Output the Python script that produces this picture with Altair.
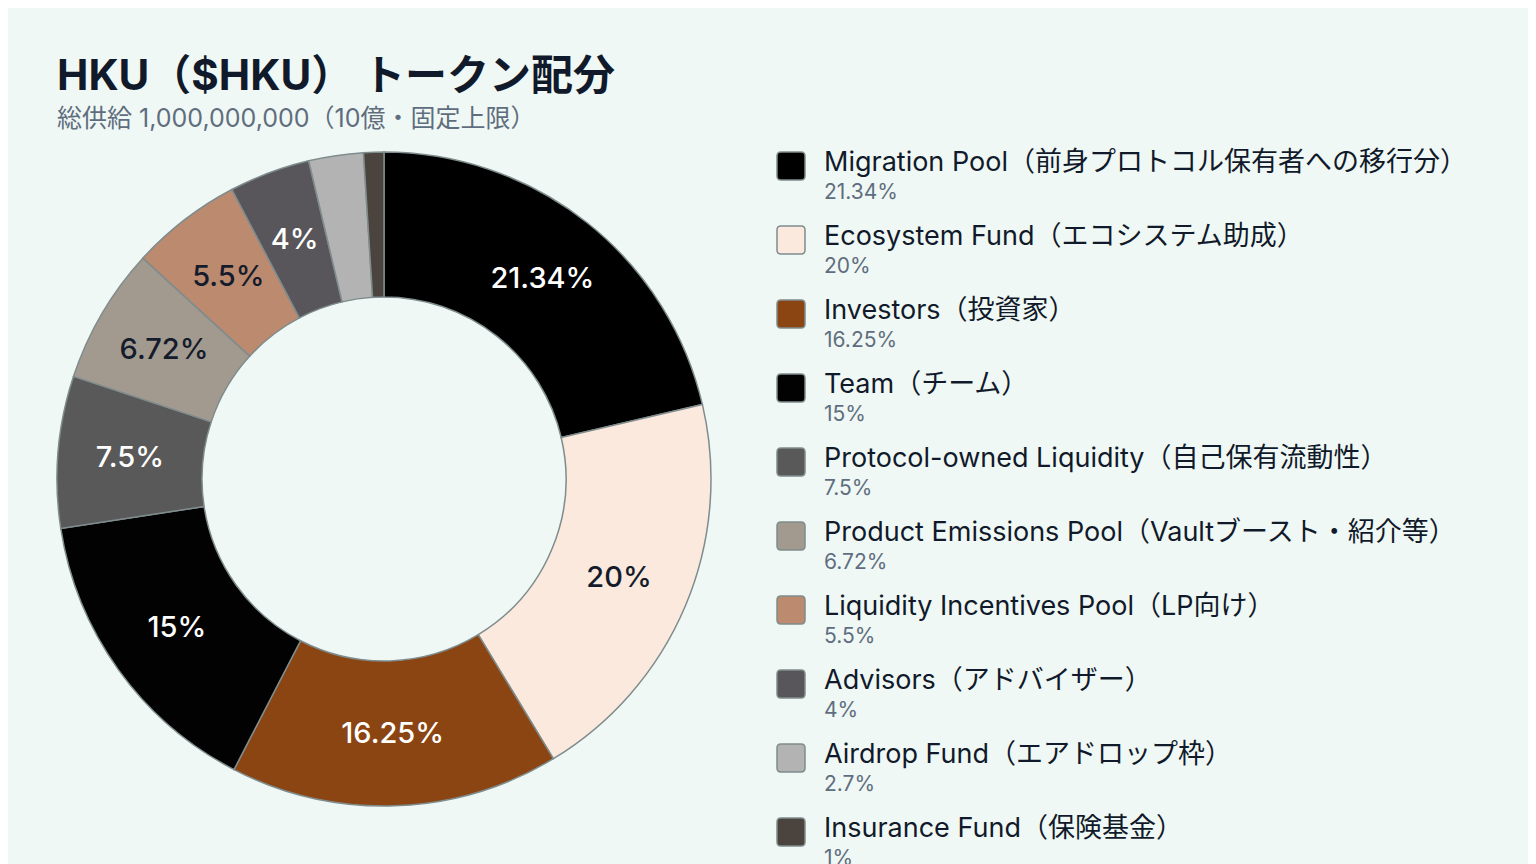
import pandas as pd
import altair as alt

names = [
    "Migration Pool（前身プロトコル保有者への移行分）",
    "Ecosystem Fund（エコシステム助成）",
    "Investors（投資家）",
    "Team（チーム）",
    "Protocol-owned Liquidity（自己保有流動性）",
    "Product Emissions Pool（Vaultブースト・紹介等）",
    "Liquidity Incentives Pool（LP向け）",
    "Advisors（アドバイザー）",
    "Airdrop Fund（エアドロップ枠）",
    "Insurance Fund（保険基金）",
]
values = [21.34, 20, 16.25, 15, 7.5, 6.72, 5.5, 4, 2.7, 1]
colors = ["#000000", "#fbe9dd", "#8b4513", "#020203", "#595959",
          "#a39a8f", "#bb8a6f", "#58565a", "#b3b3b3", "#4a433e"]
light_names = [names[1], names[5], names[6]]

FONT = "Inter, Noto Sans CJK JP"
BG = "#f0f8f5"
EDGE = "#7f8c8d"

data = pd.DataFrame({"name": names, "value": values, "idx": list(range(len(names)))})

base = alt.Chart(data).encode(
    theta=alt.Theta("value:Q", stack=True),
    order=alt.Order("idx:Q"),
)

arcs = base.mark_arc(innerRadius=182, outerRadius=327, stroke=EDGE, strokeWidth=1.5).encode(
    color=alt.Color("name:N", scale=alt.Scale(domain=names, range=colors), legend=None),
)

labels = base.transform_calculate(
    label="datum.value + '%'"
).mark_text(radius=255, font=FONT, fontSize=29, fontWeight=500).encode(
    text=alt.Text("label:N"),
    color=alt.condition(
        alt.FieldOneOfPredicate(field="name", oneOf=light_names),
        alt.value("#141c2c"),
        alt.value("#ffffff"),
    ),
).transform_filter("datum.value >= 4")

donut = (arcs + labels).properties(width=654, height=654)

# legend drawn by hand: swatch, name and share below it
ypos = alt.Y("name:N", sort=None, axis=None,
             scale=alt.Scale(type="point", domain=names, range=[14, 680], padding=0))

rounded = ("M -0.72,-1 L 0.72,-1 Q 1,-1 1,-0.72 L 1,0.72 Q 1,1 0.72,1 "
           "L -0.72,1 Q -1,1 -1,0.72 L -1,-0.72 Q -1,-1 -0.72,-1 Z")

leg_base = alt.Chart(data)

swatch = leg_base.mark_point(shape=rounded, size=784, filled=True, opacity=1,
                             stroke=EDGE, strokeWidth=1.5).encode(
    x=alt.value(31),
    y=ypos,
    fill=alt.Fill("name:N", scale=alt.Scale(domain=names, range=colors), legend=None),
)

name_text = leg_base.mark_text(align="left", baseline="middle", dy=-3, font=FONT,
                               fontSize=27, color="#111a2a").encode(
    x=alt.value(64),
    y=ypos,
    text="name:N",
)

pct_text = leg_base.transform_calculate(
    label="datum.value + '%'"
).mark_text(align="left", baseline="middle", dy=27, font=FONT,
            fontSize=21, color="#5f6e7e").encode(
    x=alt.value(64),
    y=ypos,
    text="label:N",
)

legend = (swatch + name_text + pct_text).properties(width=758, height=700)

chart = alt.hconcat(donut, legend, spacing=46).properties(
    title=alt.TitleParams(
        "HKU（$HKU） トークン配分",
        subtitle="総供給 1,000,000,000（10億・固定上限）",
        anchor="start",
        dx=3,
        font=FONT,
        fontSize=42,
        fontWeight="bold",
        color="#111a2a",
        subtitleFont=FONT,
        subtitleFontSize=25,
        subtitleColor="#5f6e7e",
        subtitlePadding=8,
        offset=16,
    ),
    padding={"left": 46, "top": 48, "right": 10, "bottom": 10},
    background=BG,
).configure_view(stroke=None).configure_concat(spacing=46)

chart.save("out.html", embed_options={"renderer": "svg", "actions": False})
